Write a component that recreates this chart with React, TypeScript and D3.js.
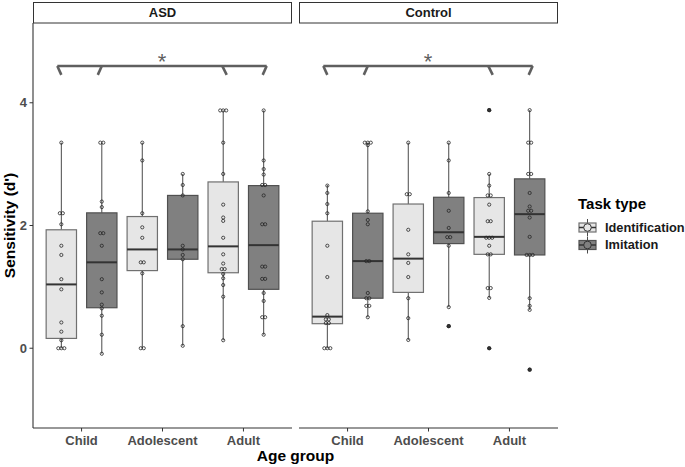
import React from "react";
import * as d3 from "d3";

const panels = ["ASD", "Control"];
const ageGroups = ["Child", "Adolescent", "Adult"];
const taskTypes = ["Identification", "Imitation"];
const yTicks = [0, 2, 4];

// box stats: [lowerWhisker, q1, median, q3, upperWhisker] per age group
const asdIdBox = [[0, 0.16, 1.04, 1.93, 3.35], [0, 1.265, 1.61, 2.146, 3.35], [0.13, 1.23, 1.66, 2.71, 3.875]];
const asdImBox = [[-0.09, 0.66, 1.4, 2.206, 3.35], [0.04, 1.45, 1.61, 2.49, 2.84], [0.22, 0.96, 1.68, 2.65, 3.875]];
const ctlIdBox = [[0, 0.4, 0.515, 2.07, 2.66], [0.135, 0.91, 1.46, 2.35, 3.35], [0.82, 1.53, 1.815, 2.455, 2.84]];
const ctlImBox = [[0.505, 0.815, 1.42, 2.2, 3.35], [0.67, 1.705, 1.89, 2.46, 3.35], [0.625, 1.52, 2.185, 2.76, 3.88]];

const asdIdOut = [[], [], []];
const asdImOut = [[], [], []];
const ctlIdOut = [[], [], [3.88, 0]];
const ctlImOut = [[], [0.36], [-0.35]];

const asdIdPts = [
  [3.35, 2.2, 2.2, 2.02, 1.67, 1.52, 1.125, 0.96, 0.42, 0.27, 0.13, 0, 0, 0],
  [3.35, 3.06, 2.2, 1.97, 1.8, 1.4, 1.4, 1.22, 0, 0],
  [3.875, 3.875, 3.875, 3.35, 2.84, 2.34, 2.13, 2.075, 1.8, 1.53, 1.38, 1.29, 1.29, 1.21, 1.14, 1.03, 0.84, 0.13],
];
const asdImPts = [
  [3.35, 3.35, 2.39, 2.3, 1.875, 1.875, 1.67, 1.125, 0.91, 0.71, 0.65, 0.53, 0.22, -0.09],
  [2.84, 2.66, 2.49, 1.67, 1.61, 1.52, 1.45, 0.36, 0.04],
  [3.875, 3.06, 2.92, 2.83, 2.66, 2.66, 2.49, 2.02, 2.02, 1.33, 1.33, 1.13, 1.13, 0.9, 0.77, 0.505, 0.505, 0.22],
];
const ctlIdPts = [
  [2.65, 2.53, 2.35, 2.2, 1.67, 1.16, 0.54, 0.47, 0.47, 0.41, 0.41, 0, 0, 0],
  [3.35, 2.51, 2.51, 1.93, 1.53, 1.39, 1.16, 0.815, 0.49, 0.135],
  [3.88, 2.84, 2.65, 2.49, 2.49, 2.34, 2.07, 2.07, 1.8, 1.8, 1.8, 1.67, 1.53, 1.53, 0.98, 0.98, 0.82, 0],
];
const ctlImPts = [
  [3.35, 3.35, 3.35, 3.31, 2.23, 2.09, 2.02, 1.42, 1.42, 0.9, 0.815, 0.815, 0.69, 0.69, 0.505],
  [3.35, 3.06, 2.53, 2.24, 1.96, 1.81, 1.81, 1.67, 0.67, 0.36],
  [3.88, 3.35, 3.35, 2.84, 2.84, 2.53, 2.31, 2.24, 2.24, 2.13, 1.815, 1.52, 1.52, 1.52, 0.815, 0.69, 0.625, -0.35],
];

const bracketY = 4.6;
const bracketLegY = 4.455;
const starY = 4.55;
const bracketLabel = "*";

const FONT = "'Liberation Sans', Arial, sans-serif";
const fills = ["#e6e6e6", "#808080"];
const panelX = [
  [33, 292],
  [299, 558],
];
const plotTop = 23;
const plotBottom = 428;

const boxes = [
  [asdIdBox, asdImBox],
  [ctlIdBox, ctlImBox],
];
const outs = [
  [asdIdOut, asdImOut],
  [ctlIdOut, ctlImOut],
];
const pts = [
  [asdIdPts, asdImPts],
  [ctlIdPts, ctlImPts],
];

function spreadPoints(values: number[]) {
  const counts = new Map<number, number>();
  values.forEach((v) => counts.set(v, (counts.get(v) || 0) + 1));
  const seen = new Map<number, number>();
  return values.map((v) => {
    const n = counts.get(v) || 1;
    const i = seen.get(v) || 0;
    seen.set(v, i + 1);
    return { v, dx: (i - (n - 1) / 2) * 3 };
  });
}

export default function App() {
  const y = d3.scaleLinear().domain([-1.3, 5.3]).range([plotBottom, plotTop]);
  // bracket leg pixel slants [top, bottom]
  const legSlant = [
    [-4, 0],
    [0, -4],
    [-1, 3.5],
    [3, -1],
  ];
  return (
    <svg width={685} height={467} style={{ position: "absolute", left: 0, top: 0, background: "#fff" }} fontFamily={FONT}>
      <rect x={0} y={0} width={685} height={467} fill="#fff" />
      {panels.map((p, pi) => {
        const [x0, x1] = panelX[pi];
        const x = d3.scalePoint<string>().domain(ageGroups).range([x0, x1]).padding(0.6);
        const step = x.step();
        const bw = step * 0.375;
        const off = [-0.25 * step, 0.25 * step];
        const legXs = [
          (x("Child") as number) + off[0],
          (x("Child") as number) + off[1],
          (x("Adult") as number) + off[0],
          (x("Adult") as number) + off[1],
        ];
        const legs = legXs.map((cx, i) => [cx + legSlant[i][0], cx + legSlant[i][1]]);
        return (
          <g key={p}>
            {/* strip */}
            <rect x={x0 + 0.5} y={2.5} width={x1 - x0 - 1} height={20.5} fill="#fff" stroke="#333" strokeWidth={1} />
            <text x={(x0 + x1) / 2} y={17} textAnchor="middle" fontSize={13} fontWeight="bold" fill="#1a1a1a">
              {p}
            </text>
            {/* x axis */}
            <line x1={x0} x2={x1} y1={plotBottom} y2={plotBottom} stroke="#333" strokeWidth={1.1} />
            {ageGroups.map((a) => (
              <g key={a}>
                <line x1={x(a)} x2={x(a)} y1={plotBottom} y2={plotBottom + 3.5} stroke="#333" strokeWidth={1} />
                <text x={x(a)} y={445} textAnchor="middle" fontSize={13} fontWeight="bold" fill="#4d4d4d">
                  {a}
                </text>
              </g>
            ))}
            {/* boxes */}
            {taskTypes.map((t, ti) =>
              ageGroups.map((a, ai) => {
                const [lo, q1, med, q3, hi] = boxes[pi][ti][ai];
                const cx = (x(a) as number) + off[ti];
                return (
                  <g key={t + a}>
                    <line x1={cx} x2={cx} y1={y(hi)} y2={y(q3)} stroke="#4a4a4a" strokeWidth={1} />
                    <line x1={cx} x2={cx} y1={y(q1)} y2={y(lo)} stroke="#4a4a4a" strokeWidth={1} />
                    <rect x={cx - bw / 2} y={y(q3)} width={bw} height={y(q1) - y(q3)} fill={fills[ti]} stroke={ti === 0 ? "#707070" : "#505050"} strokeWidth={1.2} />
                    <line x1={cx - bw / 2} x2={cx + bw / 2} y1={y(med)} y2={y(med)} stroke="#333" strokeWidth={2} />
                    {outs[pi][ti][ai].map((o, oi) => (
                      <circle key={oi} cx={cx} cy={y(o)} r={2.1} fill="#333" />
                    ))}
                  </g>
                );
              })
            )}
            {/* points */}
            {taskTypes.map((t, ti) =>
              ageGroups.map((a, ai) => {
                const cx = (x(a) as number) + off[ti];
                return (
                  <g key={"p" + t + a}>
                    {spreadPoints(pts[pi][ti][ai]).map((d, k) => (
                      <circle key={k} cx={cx + d.dx} cy={y(d.v)} r={1.6} fill="none" stroke="#262626" strokeWidth={0.8} />
                    ))}
                  </g>
                );
              })
            )}
            {/* bracket */}
            <g stroke="#5f5f5f" strokeWidth={2.6} fill="none" strokeLinecap="butt">
              <line x1={legs[0][0]} x2={legs[3][0]} y1={y(bracketY)} y2={y(bracketY)} />
              {legs.map((l, i) => (
                <line key={i} x1={l[0]} x2={l[1]} y1={y(bracketY)} y2={y(bracketLegY)} />
              ))}
            </g>
            <text x={(legs[0][0] + legs[3][0]) / 2} y={y(starY)} textAnchor="middle" fontSize={22} fill="#5f5f5f">
              {bracketLabel}
            </text>
          </g>
        );
      })}
      {/* y axis */}
      <line x1={33} x2={33} y1={plotTop} y2={plotBottom} stroke="#333" strokeWidth={1.1} />
      {yTicks.map((t) => (
        <g key={t}>
          <line x1={29.5} x2={33} y1={y(t)} y2={y(t)} stroke="#333" strokeWidth={1} />
          <text x={27} y={y(t)} dy="0.35em" textAnchor="end" fontSize={13} fontWeight="bold" fill="#4d4d4d">
            {t}
          </text>
        </g>
      ))}
      <text transform={`translate(15,${(plotTop + plotBottom) / 2}) rotate(-90)`} textAnchor="middle" fontSize={15.5} fontWeight="bold" fill="#000">
        Sensitivity (d')
      </text>
      <text x={(33 + 558) / 2} y={461} textAnchor="middle" fontSize={15.5} fontWeight="bold" fill="#000">
        Age group
      </text>
      {/* legend */}
      <text x={578} y={208.5} fontSize={15} fontWeight="bold" fill="#000">
        Task type
      </text>
      {taskTypes.map((t, ti) => {
        const cy = 227.5 + ti * 17.5;
        const cx = 587.5;
        return (
          <g key={t}>
            <line x1={cx} x2={cx} y1={cy - 8.5} y2={cy + 8.5} stroke="#4a4a4a" strokeWidth={1} />
            <rect x={cx - 8.5} y={cy - 4.5} width={17} height={9} fill={fills[ti]} stroke={ti === 0 ? "#707070" : "#505050"} strokeWidth={1.2} />
            <line x1={cx - 8.5} x2={cx + 8.5} y1={cy} y2={cy} stroke="#333" strokeWidth={1.5} />
            <circle cx={cx} cy={cy} r={3.8} fill={fills[ti]} stroke="#333" strokeWidth={1} />
            <text x={605} y={cy} dy="0.35em" fontSize={12.8} fontWeight="bold" fill="#1a1a1a">
              {t}
            </text>
          </g>
        );
      })}
    </svg>
  );
}
